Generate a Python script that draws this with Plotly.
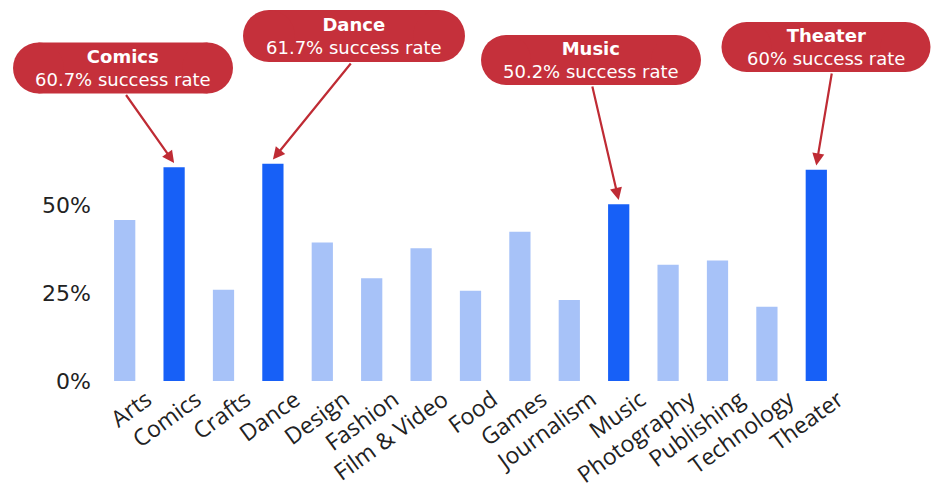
import plotly.graph_objects as go

categories = ["Arts", "Comics", "Crafts", "Dance", "Design", "Fashion", "Film & Video",
              "Food", "Games", "Journalism", "Music", "Photography", "Publishing",
              "Technology", "Theater"]
success_rate = [45.7, 60.7, 25.9, 61.7, 39.3, 29.2, 37.7, 25.6, 42.4, 23.0, 50.2,
                33.0, 34.2, 21.1, 60.0]
highlighted = ["Comics", "Dance", "Music", "Theater"]
y_tick_vals = [0, 25, 50]
y_tick_text = ["0%", "25%", "50%"]

DARK = "#1760F7"
LIGHT = "#A7C2F8"
RED = "#C5303B"
ARROW = "#BF2B34"

W, H = 932, 489
L, R, T, B = 100, 91, 0, 108
PW, PH = W - L - R, H - T - B
YMAX = 108.2

def px_x(p):
    return (p - L) / PW

def px_y(p):
    return (H - B - p) / PH

# pill boxes: center pixel positions and size (layout, not data)
pills = {
    "Comics": (123, 68, 220, 51),
    "Dance": (354, 36, 222, 52),
    "Music": (591, 60, 220, 50),
    "Theater": (826, 47, 209, 50),
}
arrow_tail_dx = {"Comics": 2, "Dance": -2, "Music": 1, "Theater": 6}

colors = [DARK if c in highlighted else LIGHT for c in categories]

fig = go.Figure(go.Bar(x=categories, y=success_rate, marker=dict(color=colors, line=dict(width=0)),
                       hoverinfo="x+y"))

shapes = []
annotations = []
for c in highlighted:
    cx, cy, w, h = pills[c]
    r = h / 2
    common = dict(xref="paper", yref="paper", xsizemode="pixel", ysizemode="pixel",
                  xanchor=px_x(cx), yanchor=px_y(cy), fillcolor=RED, line=dict(width=0),
                  layer="above")
    shapes.append(dict(type="rect", x0=-w / 2 + r, x1=w / 2 - r, y0=-h / 2, y1=h / 2, **common))
    shapes.append(dict(type="circle", x0=-w / 2, x1=-w / 2 + h, y0=-h / 2, y1=h / 2, **common))
    shapes.append(dict(type="circle", x0=w / 2 - h, x1=w / 2, y0=-h / 2, y1=h / 2, **common))
    val = success_rate[categories.index(c)]
    pct = f"{val:g}%"
    annotations.append(dict(xref="paper", yref="paper", x=px_x(cx), y=px_y(cy),
                            text=f"<span style='font-size:18px'><b>{c}</b></span><br>{pct} success rate",
                            showarrow=False,
                            font=dict(family="DejaVu Sans", size=18, color="white"),
                            align="center", xanchor="center", yanchor="middle"))
    # arrow from pill bottom to bar top
    idx = categories.index(c)
    head_px_x = L + (idx + 0.5) * PW / len(categories)
    head_px_y = H - B - (val + 1.2) / YMAX * PH
    tail_x = cx + arrow_tail_dx[c]
    tail_y = cy + h / 2
    annotations.append(dict(x=c, y=val + 1.2, xref="x", yref="y",
                            ax=tail_x - head_px_x, ay=tail_y - head_px_y,
                            text="", showarrow=True, arrowhead=2, arrowsize=1.1,
                            arrowwidth=2.2, arrowcolor=ARROW, standoff=0))

fig.update_layout(
    width=W, height=H,
    margin=dict(l=L, r=R, t=T, b=B, autoexpand=False),
    paper_bgcolor="white", plot_bgcolor="white",
    bargap=0.57,
    showlegend=False,
    shapes=shapes,
    annotations=annotations,
    xaxis=dict(type="category", tickangle=-36, showgrid=False, showline=False, zeroline=False,
               ticks="", tickfont=dict(family="Open Sans", size=23, color="#222"),
               ticklabelshift=22, ticklabelstandoff=0, automargin=False),
    yaxis=dict(range=[0, YMAX], tickvals=y_tick_vals, ticktext=y_tick_text, showgrid=False,
               showline=False, zeroline=False, ticks="", automargin=False,
               tickfont=dict(family="DejaVu Sans", size=22, color="#222"),
               ticklabelstandoff=8),
)

fig.write_html("out.html")
